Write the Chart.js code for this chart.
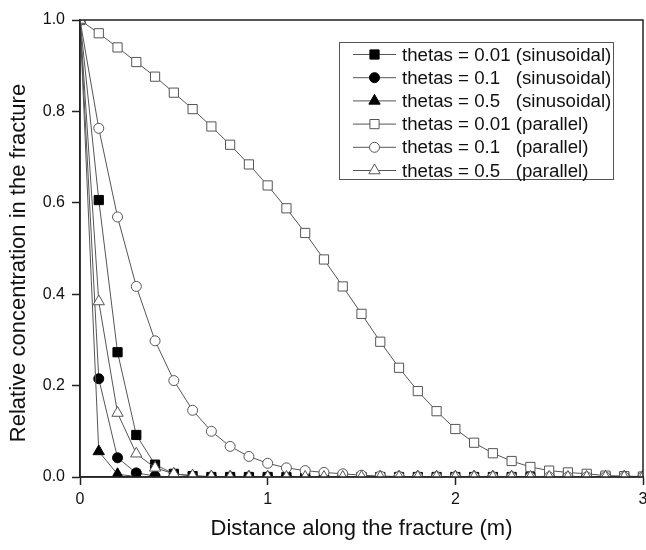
<!DOCTYPE html>
<html>
<head>
<meta charset="utf-8">
<script src="https://cdn.jsdelivr.net/npm/chart.js"></script>
<style>
    body { margin: 0; background: #fff; }
    #wrap { width: 646px; height: 550px; }
</style>
</head>
<body>
<div id="wrap"><canvas id="concChart" width="646" height="550"></canvas></div>
<script>
// --- DATA ---
const distance = [
    0, 0.1, 0.2, 0.3, 0.4, 0.5, 0.6, 0.7, 0.8, 0.9, 1.0,
    1.1, 1.2, 1.3, 1.4, 1.5, 1.6, 1.7, 1.8, 1.9, 2.0,
    2.1, 2.2, 2.3, 2.4, 2.5, 2.6, 2.7, 2.8, 2.9, 3.0,
];

const sinusoidal001 = [
    1.0, 0.606, 0.273, 0.092, 0.027, 0.007, 0.002, 0, 0, 0, 0,
    0, 0, 0, 0, 0, 0, 0, 0, 0, 0,
    0, 0, 0, 0, 0, 0, 0, 0, 0, 0,
];
const sinusoidal01 = [
    1.0, 0.215, 0.042, 0.009, 0.002, 0, 0, 0, 0, 0, 0,
    0, 0, 0, 0, 0, 0, 0, 0, 0, 0,
    0, 0, 0, 0, 0, 0, 0, 0, 0, 0,
];
const sinusoidal05 = [
    1.0, 0.056, 0.006, 0.001, 0, 0, 0, 0, 0, 0, 0,
    0, 0, 0, 0, 0, 0, 0, 0, 0, 0,
    0, 0, 0, 0, 0, 0, 0, 0, 0, 0,
];
const parallel001 = [
    1.0, 0.971, 0.94, 0.908, 0.876, 0.841, 0.805, 0.767, 0.727, 0.684, 0.638,
    0.588, 0.534, 0.476, 0.417, 0.357, 0.296, 0.239, 0.188, 0.144, 0.105,
    0.075, 0.052, 0.035, 0.022, 0.014, 0.01, 0.007, 0.003, 0.002, 0.001,
];
const parallel01 = [
    1.0, 0.763, 0.569, 0.417, 0.298, 0.211, 0.146, 0.1, 0.067, 0.045, 0.03,
    0.02, 0.014, 0.01, 0.007, 0.004, 0.002, 0.001, 0, 0, 0,
    0, 0, 0, 0, 0, 0, 0, 0, 0, 0,
];
const parallel05 = [
    1.0, 0.384, 0.14, 0.051, 0.02, 0.007, 0.003, 0.001, 0, 0, 0,
    0, 0, 0, 0, 0, 0, 0, 0, 0, 0,
    0, 0, 0, 0, 0, 0, 0, 0, 0, 0,
];

const seriesLabels = [
    'thetas = 0.01 (sinusoidal)',
    'thetas = 0.1   (sinusoidal)',
    'thetas = 0.5   (sinusoidal)',
    'thetas = 0.01 (parallel)',
    'thetas = 0.1   (parallel)',
    'thetas = 0.5   (parallel)',
];
const seriesValues = [sinusoidal001, sinusoidal01, sinusoidal05, parallel001, parallel01, parallel05];
const seriesMarkers = ['rect', 'circle', 'triangle', 'rect', 'circle', 'triangle'];
const seriesFilled = [true, true, true, false, false, false];

const xTitle = 'Distance along the fracture (m)';
const yTitle = 'Relative concentration in the fracture';

// --- STYLE ---
const FONT = '"Liberation Sans", Arial, sans-serif';
const AXIS_COLOR = '#222';
const LINE_COLOR = '#555';

function markerRadius(style) {
    return style === 'circle' ? 5 : 6.5;
}

const datasets = seriesValues.map((vals, i) => ({
    label: seriesLabels[i],
    data: distance.map((x, j) => ({ x: x, y: vals[j] })),
    borderColor: LINE_COLOR,
    borderWidth: 1,
    pointStyle: seriesMarkers[i],
    pointRadius: markerRadius(seriesMarkers[i]),
    pointBackgroundColor: seriesFilled[i] ? '#000' : '#fff',
    pointBorderColor: seriesFilled[i] ? '#000' : LINE_COLOR,
    pointBorderWidth: 1,
    tension: 0,
    fill: false,
    order: seriesValues.length - i,
}));

// frame + y title + legend drawn on top
const decorPlugin = {
    id: 'decor',
    afterDatasetsDraw(chart) {
        const { ctx, chartArea: a } = chart;
        ctx.save();
        ctx.strokeStyle = AXIS_COLOR;
        ctx.lineWidth = 1.5;
        ctx.strokeRect(a.left, a.top, a.right - a.left, a.bottom - a.top);
        ctx.restore();
    },
    afterDraw(chart) {
        const ctx = chart.ctx;

        // y axis title, sits a bit below the middle like the original
        ctx.save();
        ctx.translate(25, 263);
        ctx.rotate(-Math.PI / 2);
        ctx.font = '22px ' + FONT;
        ctx.fillStyle = '#111';
        ctx.textAlign = 'center';
        ctx.textBaseline = 'alphabetic';
        ctx.fillText(yTitle, 0, 0);
        ctx.restore();

        // legend box
        const box = { x: 339.5, y: 42.5, w: 274, h: 137 };
        ctx.save();
        ctx.fillStyle = '#fff';
        ctx.fillRect(box.x, box.y, box.w, box.h);
        ctx.strokeStyle = LINE_COLOR;
        ctx.lineWidth = 1;
        ctx.strokeRect(box.x, box.y, box.w, box.h);
        ctx.font = '18.7px ' + FONT;
        ctx.textBaseline = 'middle';
        ctx.textAlign = 'left';
        chart.data.datasets.forEach((ds, i) => {
            const y = 54.5 + i * 23.2;
            ctx.strokeStyle = ds.borderColor;
            ctx.lineWidth = 1;
            ctx.beginPath();
            ctx.moveTo(353, y);
            ctx.lineTo(396, y);
            ctx.stroke();
            ctx.fillStyle = ds.pointBackgroundColor;
            ctx.strokeStyle = ds.pointBorderColor;
            Chart.helpers.drawPoint(ctx, {
                pointStyle: ds.pointStyle,
                radius: ds.pointRadius,
                borderWidth: 1,
                rotation: 0,
            }, 374.5, y);
            ctx.fillStyle = '#111';
            ctx.fillText(ds.label, 402, y + 1);
        });
        ctx.restore();
    },
};

new Chart(document.getElementById('concChart'), {
    type: 'line',
    data: { datasets },
    options: {
        responsive: false,
        animation: false,
        layout: {
            autoPadding: false,
            padding: { top: 20, right: 3, left: 0, bottom: 0 },
        },
        plugins: {
            legend: { display: false },
            tooltip: { enabled: false },
        },
        scales: {
            x: {
                type: 'linear',
                min: 0,
                max: 3,
                afterFit: (scale) => {
                    scale.height = 73;
                    scale.paddingLeft = 0;
                    scale.paddingRight = 0;
                },
                ticks: {
                    stepSize: 1,
                    color: '#111',
                    font: { family: FONT, size: 16 },
                    padding: 5,
                    maxRotation: 0,
                    callback: (v) => String(v),
                },
                grid: {
                    drawOnChartArea: false,
                    tickLength: 8,
                    tickColor: AXIS_COLOR,
                    tickWidth: 1.5,
                },
                border: { display: true, color: AXIS_COLOR, width: 1.5 },
                title: {
                    display: true,
                    text: xTitle,
                    color: '#111',
                    font: { family: FONT, size: 22 },
                    padding: { top: 0, bottom: 8 },
                },
            },
            y: {
                min: 0,
                max: 1,
                afterFit: (scale) => {
                    scale.width = 80;
                },
                ticks: {
                    stepSize: 0.2,
                    color: '#111',
                    font: { family: FONT, size: 16 },
                    padding: 7,
                    callback: (v) => v.toFixed(1),
                },
                grid: {
                    drawOnChartArea: false,
                    tickLength: 8,
                    tickColor: AXIS_COLOR,
                    tickWidth: 1.5,
                },
                border: { display: true, color: AXIS_COLOR, width: 1.5 },
            },
        },
    },
    plugins: [decorPlugin],
});
</script>
</body>
</html>
